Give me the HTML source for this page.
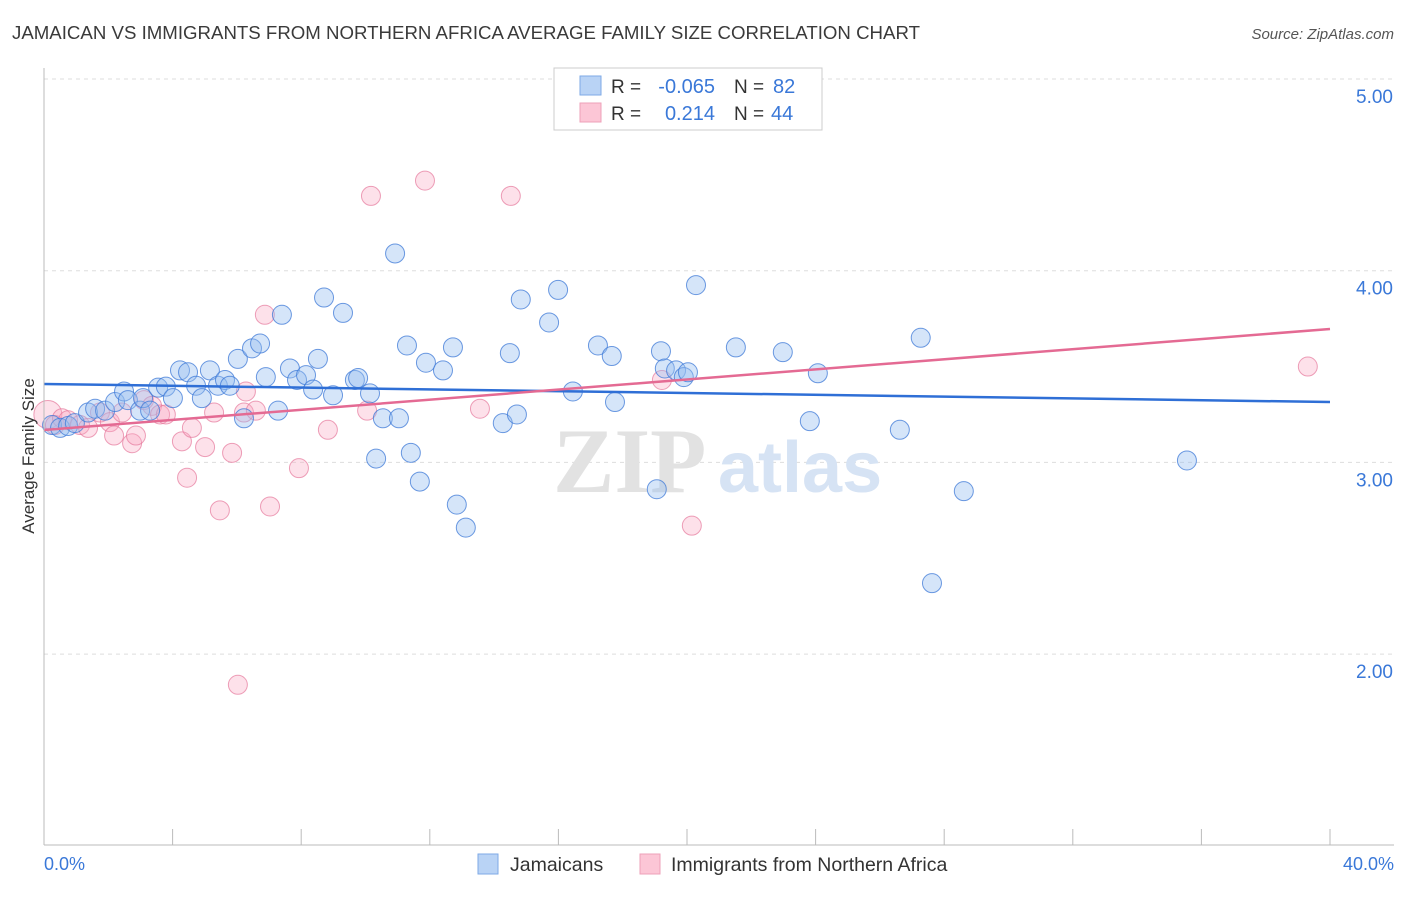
<!DOCTYPE html>
<html><head><meta charset="utf-8"><style>
body{margin:0;background:#fff;font-family:"Liberation Sans",sans-serif;}
</style></head><body>
<svg id="chart" width="1406" height="892" xmlns="http://www.w3.org/2000/svg" font-family="Liberation Sans, sans-serif">
<text x="12" y="39" font-size="18" fill="#3a3a3a" textLength="908" lengthAdjust="spacingAndGlyphs">JAMAICAN VS IMMIGRANTS FROM NORTHERN AFRICA AVERAGE FAMILY SIZE CORRELATION CHART</text>
<text x="1394" y="39" font-size="15" fill="#555" font-style="italic" text-anchor="end">Source: ZipAtlas.com</text>
<g id="grid"></g>
<text x="553" y="492" font-size="92" fill="#e2e2e2" font-family="Liberation Serif, serif" font-weight="bold">ZIP</text>
<text x="718" y="492" font-size="72" fill="#d6e3f4" font-weight="bold">atlas</text>
<g id="pts"></g>
<g id="trends"></g>
<line x1="44" y1="845" x2="1394" y2="845" stroke="#bbb"/>
<line x1="44" y1="68" x2="44" y2="845" stroke="#bbb"/>
<g id="xt"></g>
<text x="44" y="870" font-size="18" fill="#3a78d8">0.0%</text>
<text x="1394" y="870" font-size="18" fill="#3a78d8" text-anchor="end">40.0%</text>
<text transform="translate(34,456) rotate(-90)" font-size="17" fill="#333" text-anchor="middle">Average Family Size</text>
<g>
<rect x="554" y="68" width="268" height="62" fill="#fff" stroke="#ccc"/>
<rect x="580" y="76" width="21" height="19" fill="#b9d3f5" stroke="#7ea9e6"/>
<rect x="580" y="103" width="21" height="19" fill="#fcc6d6" stroke="#eea0b8"/>
<text x="611" y="93" font-size="19" fill="#333">R =</text><text x="715" y="93" font-size="20" fill="#3a78d8" text-anchor="end">-0.065</text>
<text x="734" y="93" font-size="19" fill="#333">N =</text><text x="773" y="93" font-size="20" fill="#3a78d8">82</text>
<text x="611" y="120" font-size="19" fill="#333">R =</text><text x="715" y="120" font-size="20" fill="#3a78d8" text-anchor="end">0.214</text>
<text x="734" y="120" font-size="19" fill="#333">N =</text><text x="771" y="120" font-size="20" fill="#3a78d8">44</text>
</g>
<g>
<rect x="478" y="854" width="20" height="20" fill="#b9d3f5" stroke="#7ea9e6"/>
<text x="510" y="871" font-size="19.5" fill="#333">Jamaicans</text>
<rect x="640" y="854" width="20" height="20" fill="#fcc6d6" stroke="#eea0b8"/>
<text x="671" y="871" font-size="19.5" fill="#333">Immigrants from Northern Africa</text>
</g>
</svg>
<script>
const yTicks=[2,3,4,5];
const yTickLabels=["2.00","3.00","4.00","5.00"];
const blueX=[0.25,0.5,0.75,0.96,1.37,1.59,1.9,2.21,2.49,2.61,2.99,3.08,3.3,3.55,3.79,4.01,4.23,4.48,4.73,4.91,5.16,5.41,5.63,5.78,6.03,6.22,6.47,6.72,6.9,7.28,7.4,7.65,7.87,8.15,8.37,8.52,8.71,8.99,9.3,9.67,9.77,10.14,10.33,10.54,10.92,11.04,11.29,11.41,11.69,11.88,12.41,12.72,12.84,13.12,14.27,14.49,14.71,14.83,15.71,15.99,16.45,17.23,17.66,17.76,19.06,19.19,19.31,19.66,19.9,20.03,20.28,21.52,22.98,23.82,24.07,26.62,27.27,27.62,28.61,35.55];
const blueY=[3.195,3.18,3.19,3.205,3.26,3.28,3.27,3.315,3.37,3.325,3.27,3.335,3.27,3.39,3.395,3.335,3.48,3.47,3.4,3.335,3.48,3.4,3.43,3.4,3.54,3.23,3.595,3.62,3.445,3.27,3.77,3.49,3.43,3.455,3.38,3.54,3.86,3.35,3.78,3.43,3.44,3.36,3.02,3.23,4.09,3.23,3.61,3.05,2.9,3.52,3.48,3.6,2.78,2.66,3.205,3.57,3.25,3.85,3.73,3.9,3.37,3.61,3.555,3.315,2.86,3.58,3.49,3.48,3.445,3.47,3.925,3.6,3.575,3.215,3.465,3.17,3.65,2.37,2.85,3.01];
const pinkX=[0.12,0.34,0.56,0.75,1.12,1.37,1.74,2.05,2.18,2.43,2.74,2.86,3.11,3.36,3.61,3.79,4.29,4.45,4.6,5.01,5.29,5.47,5.85,6.03,6.22,6.28,6.59,6.87,7.03,7.93,8.83,10.05,10.17,11.85,13.56,14.52,19.22,20.15,39.31];
const pinkY=[3.25,3.195,3.23,3.22,3.195,3.18,3.26,3.21,3.14,3.26,3.1,3.14,3.325,3.295,3.25,3.25,3.11,2.92,3.18,3.08,3.26,2.75,3.05,1.84,3.26,3.37,3.27,3.77,2.77,2.97,3.17,3.27,4.39,4.47,3.28,4.39,3.43,2.67,3.5];
const blueTrend=[3.409,3.315];
const pinkTrend=[3.169,3.696];
const NS="http://www.w3.org/2000/svg";
const X=v=>44+v/40*1286, Y=v=>79+(5-v)*191.7;
function mk(t,a,p){const e=document.createElementNS(NS,t);for(const k in a)e.setAttribute(k,a[k]);p.appendChild(e);return e;}
const grid=document.getElementById('grid');
yTicks.forEach((t,i)=>{
 const l=mk('line',{x1:44,x2:1394,y1:Y(t),y2:Y(t),stroke:'#ddd','stroke-dasharray':'4,4'},grid);
 
 
 const tx=mk('text',{x:1393,y:Y(t)+24,'font-size':19,fill:'#3a78d8','text-anchor':'end'},grid);
 tx.textContent=yTickLabels[i];
 
 
});
const xt=document.getElementById('xt');
for(let i=0;i<=10;i++){const l=mk('line',{x1:X(i*4),x2:X(i*4),y1:829,y2:845,stroke:'#bbb'},xt);
 
 }
const pts=document.getElementById('pts');
pinkX.forEach((x,i)=>{const c=mk('circle',{cx:X(x),cy:Y(pinkY[i]),r:i==0?14:9.5,fill:'rgba(248,170,195,0.35)',stroke:'rgba(230,120,155,0.7)','stroke-width':1},pts);
 
 });
blueX.forEach((x,i)=>{const c=mk('circle',{cx:X(x),cy:Y(blueY[i]),r:9.5,fill:'rgba(150,190,240,0.4)',stroke:'rgba(60,120,215,0.75)','stroke-width':1},pts);
 
 });
const tr=document.getElementById('trends');
const b=mk('line',{x1:X(0),y1:Y(blueTrend[0]),x2:X(40),y2:Y(blueTrend[1]),stroke:'#2f6fd6','stroke-width':2.5},tr);


const p=mk('line',{x1:X(0),y1:Y(pinkTrend[0]),x2:X(40),y2:Y(pinkTrend[1]),stroke:'#e46a93','stroke-width':2.5},tr);


</script>
</body></html>
